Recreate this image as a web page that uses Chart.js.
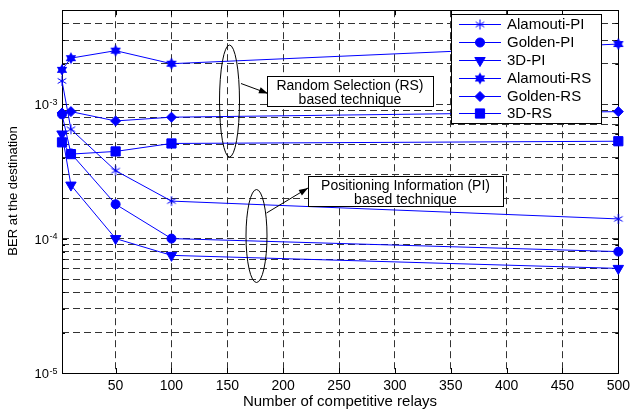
<!DOCTYPE html>
<html><head><meta charset="utf-8">
<script src="https://cdn.jsdelivr.net/npm/chart.js@4.4.0/dist/chart.umd.min.js"></script>
<style>html,body{margin:0;padding:0;background:#fff;overflow:hidden}</style>
</head><body>
<canvas id="c" width="635" height="412"></canvas>
<script>
// ---------- data ----------
const relays = [2, 10, 50, 100, 500];
const seriesNames = ['Alamouti-PI', 'Golden-PI', '3D-PI', 'Alamouti-RS', 'Golden-RS', '3D-RS'];
const alamoutiPI = [1.49e-3, 6.5e-4, 3.2e-4, 1.9e-4, 1.4e-4];
const goldenPI   = [8.4e-4, 4.3e-4, 1.8e-4, 1.0e-4, 8.0e-5];
const threeDPI   = [6.0e-4, 2.5e-4, 1.0e-4, 7.5e-5, 6.0e-5];
const alamoutiRS = [1.8e-3, 2.2e-3, 2.5e-3, 2.0e-3, 2.8e-3];
const goldenRS   = [8.6e-4, 8.8e-4, 7.5e-4, 8.0e-4, 8.8e-4];
const threeDRS   = [5.2e-4, 4.25e-4, 4.45e-4, 5.1e-4, 5.3e-4];
const xTickValues = [50, 100, 150, 200, 250, 300, 350, 400, 450, 500];
const yTickValues = [1e-5, 2e-5, 3e-5, 4e-5, 5e-5, 6e-5, 7e-5, 8e-5, 9e-5,
                     1e-4, 2e-4, 3e-4, 4e-4, 5e-4, 6e-4, 7e-4, 8e-4, 9e-4,
                     1e-3, 2e-3, 3e-3, 4e-3, 5e-3];
const yMajorTicks = [1e-5, 1e-4, 1e-3];
const yMajorBase = '10';
const yMajorExponents = ['-5', '-4', '-3'];
const xTitle = 'Number of competitive relays';
const yTitle = 'BER at the destination';
const rsNote = ['Random Selection (RS)', 'based technique'];
const piNote = ['Positioning Information (PI)', 'based technique'];

// ---------- markers ----------
const BLUE = '#0000ff';
function makeHexagram(r) {
  const s = Math.ceil(2 * r + 2), c = document.createElement('canvas');
  c.width = c.height = s;
  const g = c.getContext('2d'), cx = s / 2, cy = s / 2;
  g.fillStyle = BLUE;
  for (const off of [-Math.PI / 2, Math.PI / 2]) {
    g.beginPath();
    for (let k = 0; k < 3; k++) {
      const a = off + k * 2 * Math.PI / 3;
      g[k ? 'lineTo' : 'moveTo'](cx + r * Math.cos(a), cy + r * Math.sin(a));
    }
    g.closePath(); g.fill();
  }
  return c;
}
function makeAsterisk(r) {
  const s = Math.ceil(2 * r + 2), c = document.createElement('canvas');
  c.width = c.height = s;
  const g = c.getContext('2d'), cx = s / 2, cy = s / 2;
  g.strokeStyle = BLUE; g.lineWidth = 1;
  g.beginPath();
  for (let k = 0; k < 3; k++) {
    const a = Math.PI / 2 + k * Math.PI / 3;
    g.moveTo(cx + r * Math.cos(a), cy + r * Math.sin(a));
    g.lineTo(cx - r * Math.cos(a), cy - r * Math.sin(a));
  }
  g.stroke();
  g.beginPath(); g.moveTo(cx - 1.5, cy); g.lineTo(cx + 1.5, cy); g.stroke();
  return c;
}
const hexStar = makeHexagram(6);
const asterisk = makeAsterisk(5);

const seriesValues = [alamoutiPI, goldenPI, threeDPI, alamoutiRS, goldenRS, threeDRS];
const markerStyles = [
  {pointStyle: asterisk, pointRadius: 5, rotation: 0},
  {pointStyle: 'circle', pointRadius: 4.5, rotation: 0},
  {pointStyle: 'triangle', pointRadius: 6, rotation: 180},
  {pointStyle: hexStar, pointRadius: 6, rotation: 0},
  {pointStyle: 'rectRot', pointRadius: 5, rotation: 0},
  {pointStyle: 'rect', pointRadius: 6.5, rotation: 0}
];

const datasets = seriesNames.map((name, i) => ({
  label: name,
  data: relays.map((x, j) => ({x, y: seriesValues[i][j]})),
  borderColor: BLUE,
  backgroundColor: BLUE,
  borderWidth: 1,
  pointStyle: markerStyles[i].pointStyle,
  pointRadius: markerStyles[i].pointRadius,
  pointRotation: markerStyles[i].rotation,
  pointBorderWidth: 1,
  pointHoverRadius: markerStyles[i].pointRadius,
  tension: 0,
  clip: false
}));

const FONT = '"Liberation Sans", Arial, Helvetica, sans-serif';

function arrow(ctx, x1, y1, x2, y2) {
  ctx.beginPath(); ctx.moveTo(x1, y1); ctx.lineTo(x2, y2); ctx.stroke();
  const a = Math.atan2(y2 - y1, x2 - x1), L = 9, W = 3.2;
  ctx.beginPath();
  ctx.moveTo(x2, y2);
  ctx.lineTo(x2 - L * Math.cos(a) + W * Math.sin(a), y2 - L * Math.sin(a) - W * Math.cos(a));
  ctx.lineTo(x2 - L * Math.cos(a) - W * Math.sin(a), y2 - L * Math.sin(a) + W * Math.cos(a));
  ctx.closePath(); ctx.fill();
}
function noteBox(ctx, x, y, w, h, lines) {
  ctx.fillStyle = '#fff'; ctx.fillRect(x, y, w, h);
  ctx.strokeStyle = '#000'; ctx.lineWidth = 1; ctx.strokeRect(x + 0.5, y + 0.5, w, h);
  ctx.fillStyle = '#000'; ctx.font = '14px ' + FONT;
  ctx.textAlign = 'center'; ctx.textBaseline = 'middle';
  ctx.fillText(lines[0], x + w / 2, y + 10.5);
  ctx.fillText(lines[1], x + w / 2, y + 24.5);
}

const decor = {
  id: 'decor',
  beforeDatasetsDraw(chart) {
    const {ctx, chartArea: a, scales: {x, y}} = chart;
    ctx.save();
    ctx.strokeStyle = '#000'; ctx.lineWidth = 1; ctx.setLineDash([]);
    ctx.strokeRect(Math.round(a.left) + 0.5, Math.round(a.top) + 0.5,
                   Math.round(a.right - a.left), Math.round(a.bottom - a.top));
    ctx.beginPath();
    xTickValues.forEach(v => {
      const px = Math.round(x.getPixelForValue(v)) + 0.5;
      ctx.moveTo(px, a.bottom); ctx.lineTo(px, a.bottom - 5);
      ctx.moveTo(px, a.top); ctx.lineTo(px, a.top + 5);
    });
    yTickValues.forEach(v => {
      const py = Math.round(y.getPixelForValue(v)) + 0.5;
      const len = yMajorTicks.includes(v) ? 5 : 3;
      ctx.moveTo(a.left, py); ctx.lineTo(a.left + len, py);
      ctx.moveTo(a.right, py); ctx.lineTo(a.right - len, py);
    });
    ctx.stroke();
    // y major tick labels: 10 with raised exponent
    ctx.fillStyle = '#000';
    yMajorTicks.forEach((v, i) => {
      const py = y.getPixelForValue(v);
      ctx.font = '13px ' + FONT; ctx.textAlign = 'right'; ctx.textBaseline = 'alphabetic';
      ctx.fillText(yMajorBase, 49, py + 5);
      ctx.font = '9px ' + FONT; ctx.textAlign = 'left';
      ctx.fillText(yMajorExponents[i], 49.5, py + 0.5);
    });
    ctx.restore();
  },
  afterDatasetsDraw(chart) {
    const {ctx} = chart;
    ctx.save();
    ctx.setLineDash([]);
    ctx.strokeStyle = '#000'; ctx.fillStyle = '#000'; ctx.lineWidth = 1;
    // ellipses
    ctx.beginPath(); ctx.ellipse(229.5, 101, 10, 56, 0, 0, 2 * Math.PI); ctx.stroke();
    ctx.beginPath(); ctx.ellipse(256.5, 236, 10.5, 46.5, 0, 0, 2 * Math.PI); ctx.stroke();
    // arrows
    arrow(ctx, 241, 83.5, 268, 93.5);
    arrow(ctx, 266.5, 213, 308, 188);
    // note boxes
    noteBox(ctx, 267, 76, 166, 30, rsNote);
    noteBox(ctx, 308, 176, 195, 30, piNote);
    // legend
    const lx = 451, ly = 14, lw = 150, lh = 109;
    ctx.fillStyle = '#fff'; ctx.fillRect(lx, ly, lw, lh);
    ctx.strokeStyle = '#000'; ctx.strokeRect(lx + 0.5, ly + 0.5, lw, lh);
    chart.data.datasets.forEach((ds, i) => {
      const ry = Math.round(24.3 + i * 17.8) + 0.5;
      ctx.strokeStyle = BLUE; ctx.lineWidth = 1;
      ctx.beginPath(); ctx.moveTo(459, ry); ctx.lineTo(501, ry); ctx.stroke();
      ctx.fillStyle = BLUE;
      Chart.helpers.drawPoint(ctx, {
        pointStyle: ds.pointStyle, rotation: ds.pointRotation,
        radius: ds.pointRadius, borderWidth: 1
      }, 480, ry);
      ctx.fillStyle = '#000'; ctx.font = '15px ' + FONT;
      ctx.textAlign = 'left'; ctx.textBaseline = 'middle';
      ctx.fillText(ds.label, 507, ry + 0.5);
    });
    // axis titles
    ctx.fillStyle = '#000';
    ctx.font = '15px ' + FONT; ctx.textAlign = 'center'; ctx.textBaseline = 'middle';
    ctx.fillText(xTitle, 340, 402);
    ctx.translate(13, 191); ctx.rotate(-Math.PI / 2);
    ctx.font = '13px ' + FONT;
    ctx.fillText(yTitle, 0, 0);
    ctx.restore();
  }
};

new Chart(document.getElementById('c'), {
  type: 'line',
  data: {datasets},
  options: {
    responsive: false,
    animation: false,
    events: [],
    layout: {padding: {left: 0, right: 12, top: 10, bottom: 0}},
    plugins: {legend: {display: false}, tooltip: {enabled: false}},
    scales: {
      x: {
        type: 'linear', min: 2, max: 500,
        afterBuildTicks: s => { s.ticks = xTickValues.map(v => ({value: v})); },
        afterFit: s => { s.height = 39; },
        grid: {color: '#333', lineWidth: 1, drawTicks: false},
        border: {display: false, dash: [7, 4]},
        ticks: {color: '#000', padding: 5, maxRotation: 0, autoSkip: false,
                font: {family: FONT, size: 14}, callback: v => String(v)}
      },
      y: {
        type: 'logarithmic', min: 1e-5, max: 5e-3,
        afterBuildTicks: s => { s.ticks = yTickValues.map(v => ({value: v})); },
        afterFit: s => { s.width = 62; },
        grid: {color: '#333', lineWidth: 1, drawTicks: false},
        border: {display: false, dash: [7, 4]},
        ticks: {display: true, color: '#000', autoSkip: false, callback: () => ''}
      }
    }
  },
  plugins: [decor]
});
</script>
</body></html>
